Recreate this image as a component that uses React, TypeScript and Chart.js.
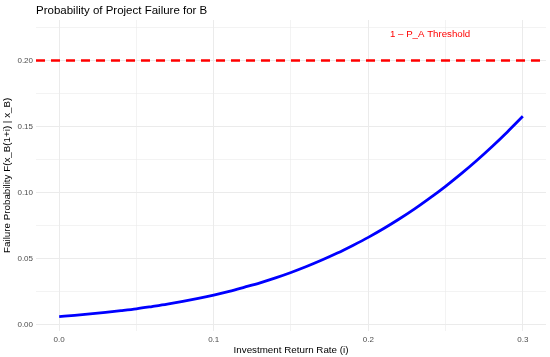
import React, { useEffect, useRef } from "react";
import { Chart, registerables } from "chart.js";

Chart.register(...registerables);

const investmentRates = [
  0, 0.01, 0.02, 0.03, 0.04, 0.05, 0.06, 0.07, 0.08, 0.09, 0.1,
  0.11, 0.12, 0.13, 0.14, 0.15, 0.16, 0.17, 0.18, 0.19, 0.2,
  0.21, 0.22, 0.23, 0.24, 0.25, 0.26, 0.27, 0.28, 0.29, 0.3,
];
const failureProbability = [
  0.00604, 0.00697, 0.008, 0.0092, 0.0105, 0.0119, 0.0136, 0.0154, 0.0175, 0.0198, 0.0223,
  0.0251, 0.0283, 0.0316, 0.0353, 0.0394, 0.0439, 0.0488, 0.0541, 0.0599, 0.066,
  0.0727, 0.0799, 0.0876, 0.0959, 0.1047, 0.1141, 0.1241, 0.1347, 0.1459, 0.1577,
];
const thresholdValue = 0.2;
const thresholdLabel = "1 – P_A Threshold";
const thresholdLabelX = 0.24;
const thresholdLabelY = 0.22;

const xLimits = [-0.015, 0.315];
const yLimits = [-0.0047, 0.2307];
const xTickValues = [0, 0.05, 0.1, 0.15, 0.2, 0.25, 0.3];
const xMajorTicks = [0, 0.1, 0.2, 0.3];
const yTickValues = [0, 0.025, 0.05, 0.075, 0.1, 0.125, 0.15, 0.175, 0.2, 0.225];
const yMajorTicks = [0, 0.05, 0.1, 0.15, 0.2];

const FONT = '"Liberation Sans", Arial, Helvetica, sans-serif';

const isMajor = (v: number, list: number[]) => list.some((m) => Math.abs(m - v) < 1e-9);

const labelPlugin = {
  id: "thresholdLabel",
  afterDatasetsDraw(chart: any) {
    const { ctx, scales } = chart;
    ctx.save();
    ctx.font = `9.7px ${FONT}`;
    ctx.fillStyle = "#ff0000";
    ctx.textAlign = "center";
    ctx.textBaseline = "middle";
    ctx.fillText(
      thresholdLabel,
      scales.x.getPixelForValue(thresholdLabelX),
      scales.y.getPixelForValue(thresholdLabelY)
    );
    ctx.restore();
  },
};

export default function App() {
  const canvasRef = useRef<HTMLCanvasElement | null>(null);

  useEffect(() => {
    document.body.style.margin = "0";
    const canvas = canvasRef.current;
    if (!canvas) return;
    const chart = new Chart(canvas, {
      type: "line",
      data: {
        datasets: [
          {
            data: investmentRates.map((x, i) => ({ x, y: failureProbability[i] })),
            borderColor: "#0000ff",
            borderWidth: 2.8,
            pointRadius: 0,
            cubicInterpolationMode: "monotone",
            fill: false,
          },
          {
            data: [
              { x: xLimits[0], y: thresholdValue },
              { x: xLimits[1], y: thresholdValue },
            ],
            borderColor: "#ff0000",
            borderWidth: 2.5,
            borderDash: [9, 6],
            pointRadius: 0,
            fill: false,
          },
        ],
      },
      options: {
        animation: false,
        responsive: false,
        layout: { padding: { left: 0, right: 4, top: 0, bottom: 0 } },
        plugins: {
          legend: { display: false },
          tooltip: { enabled: false },
          title: {
            display: true,
            text: "Probability of Project Failure for B",
            align: "start",
            fullSize: false,
            color: "#000000",
            font: { family: FONT, size: 11.5, weight: "normal" },
            padding: { top: 4, bottom: 2.2 },
          },
        },
        scales: {
          x: {
            type: "linear",
            min: xLimits[0],
            max: xLimits[1],
            offset: false,
            border: { display: false },
            afterBuildTicks: (scale: any) => {
              scale.ticks = xTickValues.map((value) => ({ value }));
            },
            afterFit: (scale: any) => {
              scale.height = 26.3;
            },
            grid: {
              drawTicks: false,
              color: "#ebebeb",
              lineWidth: (ctx: any) => (isMajor(ctx.tick?.value, xMajorTicks) ? 1 : 0.6),
            },
            ticks: {
              autoSkip: false,
              maxRotation: 0,
              padding: 4,
              color: "#4d4d4d",
              font: { family: FONT, size: 8 },
              callback: (v: any) => (isMajor(Number(v), xMajorTicks) ? Number(v).toFixed(1) : ""),
            },
            title: {
              display: true,
              text: "Investment Return Rate (i)",
              color: "#000000",
              font: { family: FONT, size: 9.8 },
              padding: { top: 0, bottom: 1.1 },
            },
          },
          y: {
            type: "linear",
            min: yLimits[0],
            max: yLimits[1],
            border: { display: false },
            afterBuildTicks: (scale: any) => {
              scale.ticks = yTickValues.map((value) => ({ value }));
            },
            afterFit: (scale: any) => {
              scale.width = 36;
            },
            grid: {
              drawTicks: false,
              color: "#ebebeb",
              lineWidth: (ctx: any) => (isMajor(ctx.tick?.value, yMajorTicks) ? 1 : 0.6),
            },
            ticks: {
              autoSkip: false,
              padding: 3,
              color: "#4d4d4d",
              font: { family: FONT, size: 8 },
              callback: (v: any) => (isMajor(Number(v), yMajorTicks) ? Number(v).toFixed(2) : ""),
            },
            title: {
              display: true,
              text: "Failure Probability F(x_B(1+i) | x_B)",
              color: "#000000",
              font: { family: FONT, size: 9.8 },
              padding: { top: 1.4, bottom: 0 },
            },
          },
        },
      },
      plugins: [labelPlugin],
    } as any);
    return () => chart.destroy();
  }, []);

  return (
    <div style={{ width: 550, height: 357 }}>
      <canvas ref={canvasRef} width={550} height={357} style={{ display: "block" }} />
    </div>
  );
}
